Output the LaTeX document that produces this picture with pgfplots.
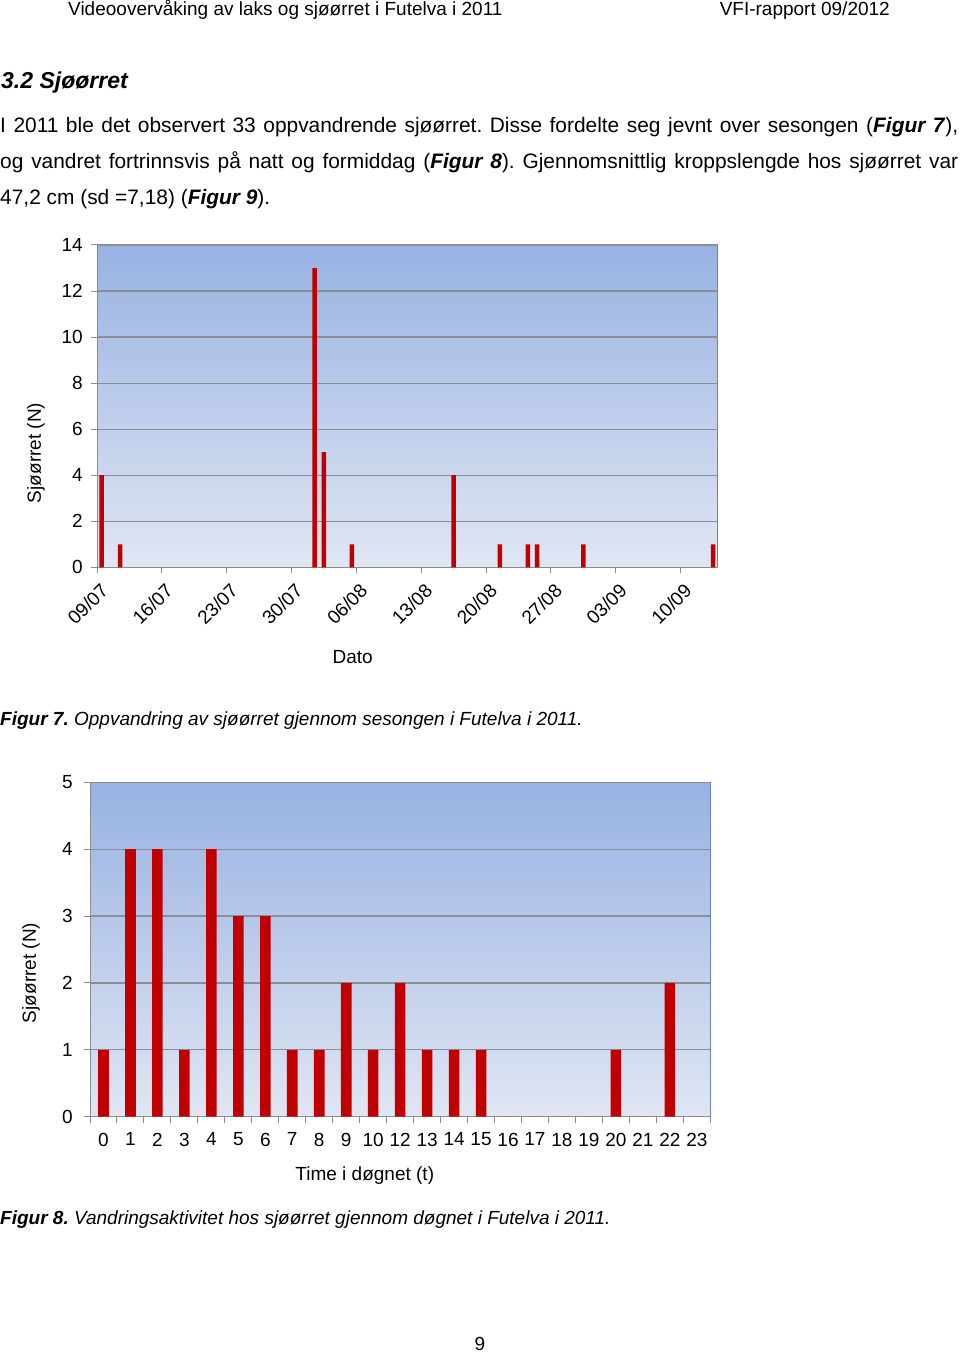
\documentclass[border=0pt]{standalone}
\usepackage{fontspec}
\setmainfont{Liberation Sans}
\usepackage{pgfplots}
\pgfplotsset{compat=1.18}
\definecolor{barred}{RGB}{192,0,0}
\definecolor{bgtop}{RGB}{152,178,226}
\definecolor{bgbot}{RGB}{224,230,243}
\definecolor{gridc}{RGB}{140,142,150}
\definecolor{framec}{RGB}{100,130,190}
\definecolor{axc}{RGB}{140,140,140}
\newcommand\fs[1]{\fontsize{#1pt}{#1pt}\selectfont}
\frenchspacing
\pgfplotsset{mychart/.style={
  scale only axis, anchor=south west,
  axis background/.style={top color=bgtop, bottom color=bgbot, draw=framec, line width=1pt},
  axis x line*=bottom, axis y line*=left,
  axis line style={axc, line width=1pt},
  tick align=outside, tick style={axc, line width=1pt}, major tick length=6pt,
  ymajorgrids, grid style={gridc, line width=1.2pt},
  ticklabel style={font=\fs{19}},
  /pgf/number format/assume math mode=true,
}}
\pgfplotstableread{
x y
0.5 4
2.5 1
23.5 13
24.5 5
27.5 1
38.5 4
43.5 1
46.5 1
47.5 1
52.5 1
66.5 1
}\datesdata
\pgfplotstableread{
x y
0 1
1 4
2 4
3 1
4 4
5 3
6 3
7 1
8 1
9 2
10 1
11 2
12 1
13 1
14 1
15 0
16 0
17 0
18 0
19 1
20 0
21 2
22 0
}\hourdata
\begin{document}
\frenchspacing
\begin{tikzpicture}[x=1pt,y=1pt]
\fill[white] (0,0) rectangle (960,1354);
% header
\node[anchor=base west, inner sep=0] at (68,1338) {\fs{19}Videoovervåking av laks og sjøørret i Futelva i 2011};
\node[anchor=base east, inner sep=0] at (890,1338) {\fs{19}VFI-rapport 09/2012};
% heading
\node[anchor=base west, inner sep=0] at (1,1265) {\fs{23}\bfseries\itshape 3.2 Sjøørret};
% body
\node[anchor=base west, inner sep=0] at (0,1221) {\fs{20.9}\hbox to 958pt{I 2011 ble det observert 33 oppvandrende sjøørret. Disse fordelte seg jevnt over sesongen (\textbf{\textit{Figur 7}}),}};
\node[anchor=base west, inner sep=0] at (0,1185) {\fs{20.9}\hbox to 958pt{og vandret fortrinnsvis på natt og formiddag (\textbf{\textit{Figur 8}}). Gjennomsnittlig kroppslengde hos sjøørret var}};
\node[anchor=base west, inner sep=0] at (0,1149) {\fs{20.9}47,2 cm (sd =7,18) (\textbf{\textit{Figur 9}}).};
% captions
\node[anchor=base west, inner sep=0] at (0,628) {\fs{19}\itshape\textbf{Figur 7.} Oppvandring av sjøørret gjennom sesongen i Futelva i 2011.};
\node[anchor=base west, inner sep=0] at (0,129) {\fs{19}\itshape\textbf{Figur 8.} Vandringsaktivitet hos sjøørret gjennom døgnet i Futelva i 2011.};
\node[anchor=base, inner sep=0] at (480,3) {\fs{19}9};

% Chart 1
\begin{axis}[mychart, at={(97pt,786.7pt)}, width=620.7pt, height=322.3pt,
  xmin=0, xmax=67, ymin=0, ymax=14, ytick={0,2,...,14},
  xtick={0,7,...,63}, xticklabel=\empty,
  extra x ticks={0.5,7.5,...,63.5},
  extra x tick labels={09/07,16/07,23/07,30/07,06/08,13/08,20/08,27/08,03/09,10/09},
  extra x tick style={major tick length=0pt, xticklabel style={xshift=3pt, yshift=-20pt, rotate=45, anchor=east, inner sep=0pt}},
  yticklabel style={inner sep=0pt, xshift=-8pt},
  every axis x label/.style={at={(rel axis cs:0.412,0)}, yshift=-89.7pt, anchor=center, font=\fs{19}},
  every axis y label/.style={at={(rel axis cs:0,0.355)}, xshift=-61pt, rotate=90, anchor=center, font=\fs{19}},
  xlabel={Dato}, ylabel={Sjøørret (N)}]
\addplot[ybar, bar width=4.5pt, fill=barred, draw=none] table[x=x,y=y] {\datesdata};
\end{axis}

% Chart 2
\begin{axis}[mychart, at={(90pt,237.3pt)}, width=620.3pt, height=334.4pt,
  xmin=-0.5, xmax=22.5, ymin=0, ymax=5, ytick={0,1,...,5},
  xtick={-0.5,0.5,...,22.5}, xticklabel=\empty,
  extra x ticks={0,1,...,22},
  extra x tick labels={0,1,2,3,4,5,6,7,8,9,10,12,13,14,15,16,17,18,19,20,21,22,23},
  extra x tick style={major tick length=0pt, xticklabel style={anchor=north, inner sep=0pt, yshift=-16pt}},
  yticklabel style={inner sep=0pt, xshift=-11pt},
  every axis x label/.style={at={(rel axis cs:0.443,0)}, yshift=-59pt, anchor=center, font=\fs{19}},
  every axis y label/.style={at={(rel axis cs:0,0.43)}, xshift=-59pt, rotate=90, anchor=center, font=\fs{19}},
  xlabel={Time i døgnet (t)}, ylabel={Sjøørret (N)}]
\addplot[ybar, bar width=10.6pt, fill=barred, draw=none] table[x=x,y=y] {\hourdata};
\end{axis}
\end{tikzpicture}
\end{document}
